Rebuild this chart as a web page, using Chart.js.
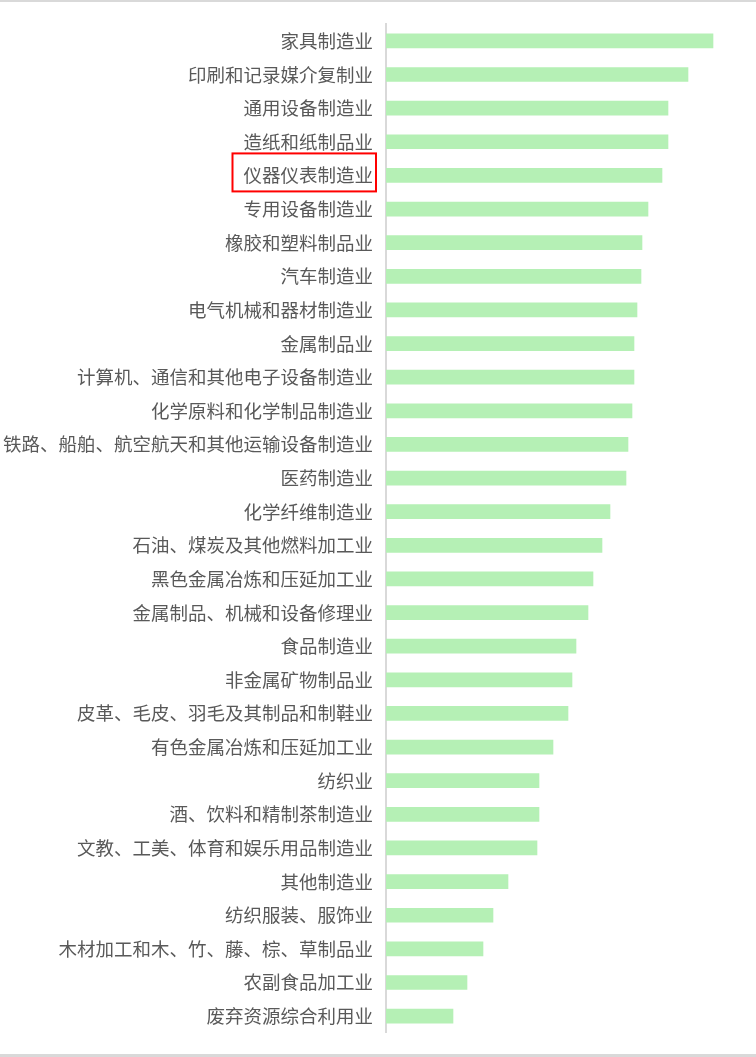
<!DOCTYPE html>
<html>
<head>
<meta charset="utf-8">
<script src="https://cdn.jsdelivr.net/npm/chart.js@4.4.1/dist/chart.umd.min.js"></script>
<style>
  html, body { margin: 0; padding: 0; background: #fff; }
  #wrap { width: 756px; height: 1057px; position: relative; }
</style>
</head>
<body>
<div id="wrap"><canvas id="chart"></canvas></div>
<script>
// Industry categories, top to bottom
const industries = [
  '家具制造业', '印刷和记录媒介复制业', '通用设备制造业', '造纸和纸制品业',
  '仪器仪表制造业', '专用设备制造业', '橡胶和塑料制品业', '汽车制造业',
  '电气机械和器材制造业', '金属制品业', '计算机、通信和其他电子设备制造业',
  '化学原料和化学制品制造业', '铁路、船舶、航空航天和其他运输设备制造业',
  '医药制造业', '化学纤维制造业', '石油、煤炭及其他燃料加工业',
  '黑色金属冶炼和压延加工业', '金属制品、机械和设备修理业', '食品制造业',
  '非金属矿物制品业', '皮革、毛皮、羽毛及其制品和制鞋业',
  '有色金属冶炼和压延加工业', '纺织业', '酒、饮料和精制茶制造业',
  '文教、工美、体育和娱乐用品制造业', '其他制造业', '纺织服装、服饰业',
  '木材加工和木、竹、藤、棕、草制品业', '农副食品加工业', '废弃资源综合利用业'
];

// Bar lengths (relative units)
const values = [
  327, 302, 282, 282, 276, 262, 256, 255, 251, 248,
  248, 246, 242, 240, 224, 216, 207, 202, 190, 186,
  182, 167, 153, 153, 151, 122, 107, 97, 81, 67
];

// Label that gets the red highlight box
const highlighted = '仪器仪表制造业';

const labelFont = { family: '"Noto Sans CJK SC", "Noto Sans", sans-serif', size: 18.5 };

// Draws the page frame lines and the red box around the highlighted label
const decorations = {
  id: 'decorations',
  afterDraw(chart) {
    const ctx = chart.ctx;
    const yScale = chart.scales.y;
    ctx.save();

    // top and bottom frame lines
    ctx.fillStyle = '#d9d9d9';
    ctx.fillRect(0, 0, chart.width, 2);
    ctx.fillRect(0, chart.height - 3, chart.width, 3);

    // red box round the highlighted label
    const idx = industries.indexOf(highlighted);
    if (idx >= 0) {
      ctx.font = labelFont.size + 'px ' + labelFont.family;
      const textW = ctx.measureText(highlighted).width;
      const right = yScale.right - 14;
      const cy = yScale.getPixelForValue(idx) - 3;
      ctx.strokeStyle = '#ff0000';
      ctx.lineWidth = 2;
      ctx.strokeRect(right - textW - 10, cy - 19, textW + 14, 38);
    }
    ctx.restore();
  }
};

new Chart(document.getElementById('chart'), {
  type: 'bar',
  data: {
    labels: industries,
    datasets: [{
      data: values,
      backgroundColor: 'rgb(181, 240, 181)',
      barThickness: 14
    }]
  },
  options: {
    indexAxis: 'y',
    responsive: true,
    maintainAspectRatio: false,
    animation: false,
    layout: { padding: { top: 24, bottom: 24, right: 20, left: 0 } },
    plugins: {
      legend: { display: false },
      tooltip: { enabled: false }
    },
    scales: {
      x: {
        display: false,
        min: 0,
        max: 350
      },
      y: {
        afterFit(scale) { scale.width = 386; },
        grid: { display: false, drawTicks: false },
        border: { display: true, color: '#d9d9d9', width: 2 },
        ticks: {
          color: '#595959',
          font: labelFont,
          padding: 13,
          autoSkip: false
        }
      }
    }
  },
  plugins: [decorations]
});
</script>
</body>
</html>
